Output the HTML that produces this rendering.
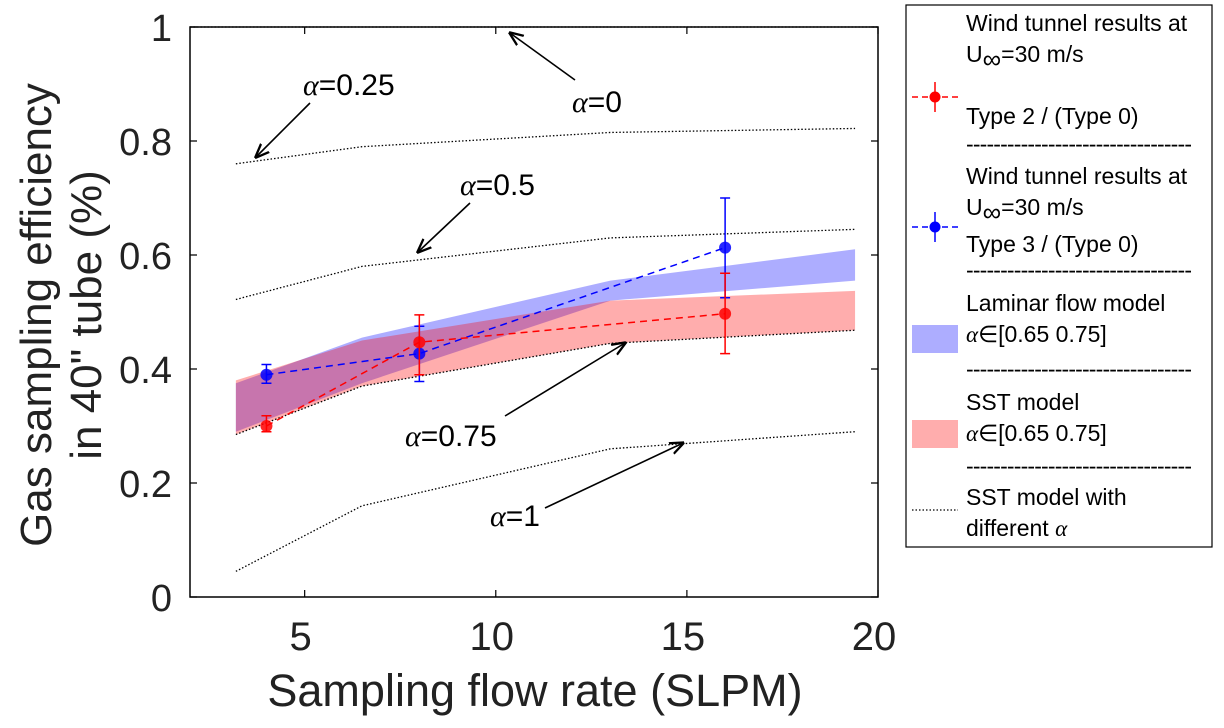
<!DOCTYPE html>
<html><head><meta charset="utf-8"><style>
html,body{margin:0;padding:0;background:#fff;}
svg{display:block;font-family:"Liberation Sans",sans-serif;}
</style></head><body>
<svg id="chart" width="1224" height="728" viewBox="0 0 1224 728">
<defs><marker id="ah" viewBox="0 0 10 10" refX="9" refY="5" markerWidth="9" markerHeight="9" orient="auto"><path d="M0,1 L10,5 L0,9" fill="none" stroke="#000" stroke-width="1.6"/></marker></defs>
<g id="bands"></g><g id="curves"></g><g id="series"></g>
<rect x="190" y="27" width="688" height="570" fill="none" stroke="#000" stroke-width="1.5"/>
<g id="axes"></g>
<text x="535" y="706" font-size="45" text-anchor="middle" fill="#222">Sampling flow rate (SLPM)</text>
<text transform="translate(51,315) rotate(-90)" font-size="44" text-anchor="middle" fill="#222">Gas sampling efficiency</text>
<text transform="translate(101,315) rotate(-90)" font-size="44" text-anchor="middle" fill="#222">in 40" tube (%)</text>
<g font-size="30" fill="#000">
<text x="572" y="112"><tspan font-family="Liberation Serif" font-style="italic">α</tspan>=0</text>
<line x1="575" y1="80" x2="510" y2="33" stroke="#000" stroke-width="1.6" marker-end="url(#ah)"/>
<text x="303" y="95"><tspan font-family="Liberation Serif" font-style="italic">α</tspan>=0.25</text>
<line x1="310" y1="103" x2="256" y2="157" stroke="#000" stroke-width="1.6" marker-end="url(#ah)"/>
<text x="460" y="195"><tspan font-family="Liberation Serif" font-style="italic">α</tspan>=0.5</text>
<line x1="470" y1="203" x2="418" y2="252" stroke="#000" stroke-width="1.6" marker-end="url(#ah)"/>
<text x="405" y="446"><tspan font-family="Liberation Serif" font-style="italic">α</tspan>=0.75</text>
<line x1="505" y1="416" x2="625" y2="343" stroke="#000" stroke-width="1.6" marker-end="url(#ah)"/>
<text x="490" y="526"><tspan font-family="Liberation Serif" font-style="italic">α</tspan>=1</text>
<line x1="545" y1="508" x2="683" y2="443" stroke="#000" stroke-width="1.6" marker-end="url(#ah)"/>
</g>
<g font-size="23" fill="#000">
<rect x="906" y="5" width="306" height="542" fill="#fff" stroke="#000" stroke-width="1.2"/>
<text x="966" y="31">Wind tunnel results at</text>
<text x="966" y="62">U<tspan font-size="26" dy="6">∞</tspan><tspan dy="-6">=30 m/s</tspan></text>
<text x="966" y="124">Type 2 / (Type 0)</text>
<line x1="912" y1="97" x2="958" y2="97" stroke="#f00" stroke-width="1.5" stroke-dasharray="6,4"/>
<line x1="935" y1="82" x2="935" y2="112" stroke="#f00" stroke-width="1.5"/>
<circle cx="935" cy="97" r="5.5" fill="#f00"/>
<text x="966" y="152" textLength="226">---------------------------------</text>
<text x="966" y="184">Wind tunnel results at</text>
<text x="966" y="215">U<tspan font-size="26" dy="6">∞</tspan><tspan dy="-6">=30 m/s</tspan></text>
<text x="966" y="252">Type 3 / (Type 0)</text>
<line x1="912" y1="227" x2="958" y2="227" stroke="#00f" stroke-width="1.5" stroke-dasharray="6,4"/>
<line x1="935" y1="212" x2="935" y2="242" stroke="#00f" stroke-width="1.5"/>
<circle cx="935" cy="227" r="5.5" fill="#00f"/>
<text x="966" y="278" textLength="226">---------------------------------</text>
<text x="966" y="311">Laminar flow model</text>
<text x="966" y="342"><tspan font-family="Liberation Serif" font-style="italic">α</tspan>∈[0.65 0.75]</text>
<rect x="912" y="325" width="46" height="28" fill="#adadff"/>
<text x="966" y="377" textLength="226">---------------------------------</text>
<text x="966" y="410">SST model</text>
<text x="966" y="441"><tspan font-family="Liberation Serif" font-style="italic">α</tspan>∈[0.65 0.75]</text>
<rect x="912" y="420" width="46" height="28" fill="#ffadad"/>
<text x="966" y="474" textLength="226">---------------------------------</text>
<text x="966" y="505">SST model with</text>
<text x="966" y="536">different <tspan font-family="Liberation Serif" font-style="italic">α</tspan></text>
<line x1="912" y1="510" x2="958" y2="510" stroke="#000" stroke-width="1.2" stroke-dasharray="1.5,2"/>
</g>
</svg>
<script>
const modelX=[3.2,6.5,13,19.4];
const alpha0=[1.0,1.0,1.0,1.0];
const alpha025=[0.76,0.79,0.815,0.822];
const alpha05=[0.522,0.58,0.63,0.645];
const alpha075=[0.285,0.37,0.445,0.468];
const alpha1=[0.045,0.16,0.26,0.29];
const laminarUpper=[0.375,0.455,0.555,0.61];
const laminarLower=[0.29,0.375,0.52,0.555];
const sstUpper=[0.38,0.45,0.52,0.537];
const sstLower=[0.285,0.37,0.445,0.468];
const pointX=[4,8,16];
const type2Vals=[0.30,0.447,0.497];
const type2Lo=[0.29,0.39,0.427];
const type2Hi=[0.318,0.495,0.568];
const type3Vals=[0.39,0.427,0.613];
const type3Lo=[0.375,0.378,0.525];
const type3Hi=[0.408,0.475,0.70];
const xTicks=[5,10,15,20];
const yTicks=[0,0.2,0.4,0.6,0.8,1];
const yTickLabels=["0","0.2","0.4","0.6","0.8","1"];

const NS="http://www.w3.org/2000/svg";
const X=v=>190+(v-2)/18*688;
const Y=v=>597-v*570;
function mk(tag,parent,attrs){const e=document.createElementNS(NS,tag);for(const k in attrs)e.setAttribute(k,attrs[k]);document.getElementById(parent).appendChild(e);return e;}
function band(up,lo,fill,name){
  const pts=modelX.map((x,i)=>X(x)+","+Y(up[i])).concat(modelX.map((x,i)=>X(x)+","+Y(lo[i])).reverse());
  const e=mk("polygon","bands",{points:pts.join(" "),fill:fill,"fill-opacity":0.32});
  
  
}
band(laminarUpper,laminarLower,"#0000ff","laminar-band");
band(sstUpper,sstLower,"#ff0000","sst-band");
[[alpha0,"curve-alpha-0"],[alpha025,"curve-alpha-025"],[alpha05,"curve-alpha-05"],[alpha075,"curve-alpha-075"],[alpha1,"curve-alpha-1"]].forEach(([a,n])=>{
  const xs=n==="curve-alpha-0"?[2,20]:modelX;const vs=n==="curve-alpha-0"?[a[0],a[0]]:a;
  const e=mk("polyline","curves",{points:xs.map((x,i)=>X(x)+","+Y(vs[i])).join(" "),fill:"none",stroke:"#000","stroke-width":1.3,"stroke-dasharray":"1.5,2"});
  
  
});
function series(vals,lo,hi,col,name){
  const l=mk("polyline","series",{points:pointX.map((x,i)=>X(x)+","+Y(vals[i])).join(" "),fill:"none",stroke:col,"stroke-width":1.5,"stroke-dasharray":"7,5"});
  
  
  pointX.forEach((x,i)=>{
    const cx=X(x);
    const eb=mk("path","series",{d:`M${cx},${Y(lo[i])}V${Y(hi[i])}M${cx-5},${Y(lo[i])}h10M${cx-5},${Y(hi[i])}h10`,stroke:col,"stroke-width":1.5,fill:"none"});
    
    
    const c=mk("circle","series",{cx:cx,cy:Y(vals[i]),r:6,fill:col,"fill-opacity":0.85});
    
    
  });
}
series(type3Vals,type3Lo,type3Hi,"#0000ff","type3");
series(type2Vals,type2Lo,type2Hi,"#ff0000","type2");
xTicks.forEach(t=>{
  const tk=mk("path","axes",{d:`M${X(t)},597v-7M${X(t)},27v7`,stroke:"#000","stroke-width":1.2});
  
  
  const tx=mk("text","axes",{x:X(t)-4,y:650,"font-size":40,"text-anchor":"middle",fill:"#222"});
  tx.textContent=t;
  
  
});
yTicks.forEach((t,i)=>{
  const tk=mk("path","axes",{d:`M190,${Y(t)}h7M878,${Y(t)}h-7`,stroke:"#000","stroke-width":1.2});
  
  
  const tx=mk("text","axes",{x:172,y:Y(t)+14,"font-size":38,"text-anchor":"end",fill:"#222"});
  tx.textContent=yTickLabels[i];
  
  
});
</script>
</body></html>
